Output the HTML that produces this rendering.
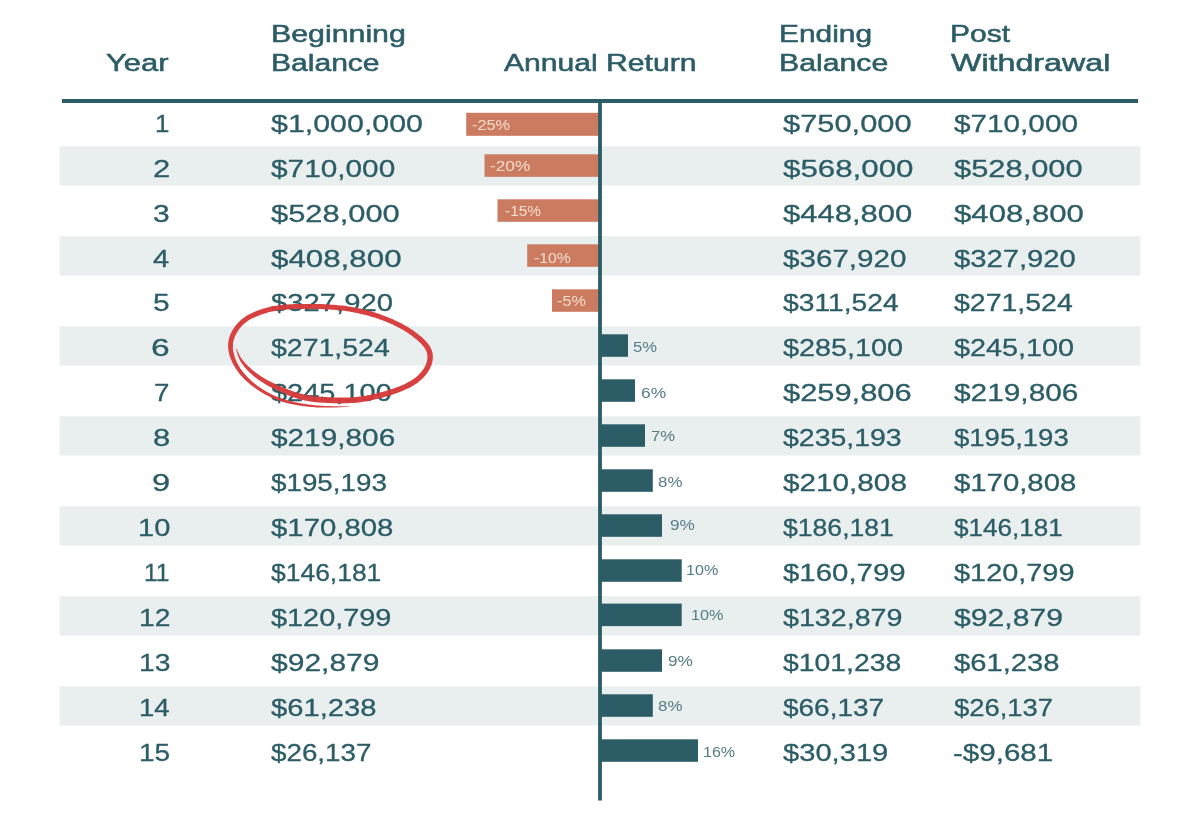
<!DOCTYPE html>
<html lang="en">
<head>
<meta charset="utf-8">
<title>Sequence of Returns &ndash; Withdrawal Table</title>
<style>
html,body{margin:0;padding:0;background:#fff;}
body{width:1200px;height:834px;position:relative;overflow:hidden;font-family:"Liberation Sans", sans-serif;color:#2c5d66;}
#bg,#mark{position:absolute;left:0;top:0;width:1200px;height:834px;display:block;}
#mark{opacity:0.96;}
.tbl{position:absolute;left:0;top:0;width:1200px;height:834px;}
.t{position:absolute;white-space:nowrap;transform-origin:0 0;display:block;will-change:transform;}
.h{font-size:24.5px;line-height:27px;-webkit-text-stroke:0.55px #2c5d66;}
.y,.n{font-size:24.5px;line-height:27px;-webkit-text-stroke:0.3px #2c5d66;}
.ln,.lp{font-size:15.4px;line-height:17px;}
.ln{color:#f8dccd;}
.lp{color:#567c85;}
</style>
</head>
<body>
<svg id="bg" width="1200" height="834" viewBox="0 0 1200 834">
<rect x="59.5" y="146.25" width="1081" height="39.25" fill="#e9eeef"/>
<rect x="59.5" y="236.25" width="1081" height="39.25" fill="#e9eeef"/>
<rect x="59.5" y="326.25" width="1081" height="39.25" fill="#e9eeef"/>
<rect x="59.5" y="416.25" width="1081" height="39.25" fill="#e9eeef"/>
<rect x="59.5" y="506.25" width="1081" height="39.25" fill="#e9eeef"/>
<rect x="59.5" y="596.25" width="1081" height="39.25" fill="#e9eeef"/>
<rect x="59.5" y="686.25" width="1081" height="39.25" fill="#e9eeef"/>
<rect x="466.2" y="112.8" width="133.0" height="23.0" fill="#ca7b60"/>
<rect x="484.5" y="154.3" width="114.7" height="22.5" fill="#ca7b60"/>
<rect x="497.5" y="199.3" width="101.7" height="22.5" fill="#ca7b60"/>
<rect x="527.2" y="244.3" width="72.0" height="22.5" fill="#ca7b60"/>
<rect x="552.0" y="289.3" width="47.2" height="22.5" fill="#ca7b60"/>
<rect x="601.0" y="334.3" width="27.0" height="22.5" fill="#2c5d66"/>
<rect x="601.0" y="379.3" width="34.0" height="22.5" fill="#2c5d66"/>
<rect x="601.0" y="424.3" width="44.0" height="22.5" fill="#2c5d66"/>
<rect x="601.0" y="469.3" width="51.8" height="22.5" fill="#2c5d66"/>
<rect x="601.0" y="514.3" width="61.0" height="22.5" fill="#2c5d66"/>
<rect x="601.0" y="559.3" width="80.7" height="22.5" fill="#2c5d66"/>
<rect x="601.0" y="603.6" width="80.7" height="22.5" fill="#2c5d66"/>
<rect x="601.0" y="649.3" width="61.0" height="22.5" fill="#2c5d66"/>
<rect x="601.0" y="694.3" width="51.8" height="22.5" fill="#2c5d66"/>
<rect x="601.0" y="739.3" width="97.0" height="22.5" fill="#2c5d66"/>
<rect x="62" y="99" width="1076" height="4" fill="#2c5d66"/>
<rect x="598.1" y="99" width="3.8" height="701.5" fill="#2c5d66"/>
</svg>
<div class="tbl" role="table">
<div class="thead" role="row"><span class="t h" style="left:106.42px;top:49.30px;transform:scaleX(1.2622)">Year</span><span class="t h" style="left:270.63px;top:20.20px;transform:scaleX(1.2371)">Beginning</span><span class="t h" style="left:270.65px;top:49.30px;transform:scaleX(1.2262)">Balance</span><span class="t h" style="left:504.30px;top:49.30px;transform:scaleX(1.2283)">Annual Return</span><span class="t h" style="left:778.92px;top:20.20px;transform:scaleX(1.2192)">Ending</span><span class="t h" style="left:778.89px;top:49.30px;transform:scaleX(1.2338)">Balance</span><span class="t h" style="left:949.66px;top:20.20px;transform:scaleX(1.2237)">Post</span><span class="t h" style="left:951.00px;top:49.30px;transform:scaleX(1.3149)">Withdrawal</span></div>
<div class="tr" role="row"><span class="t y" style="left:155.38px;top:110.00px;transform:scaleX(1.0584)">1</span><span class="t n" style="left:270.75px;top:110.00px;transform:scaleX(1.2397)">$1,000,000</span><span class="t n" style="left:782.60px;top:110.00px;transform:scaleX(1.2591)">$750,000</span><span class="t n" style="left:953.90px;top:110.00px;transform:scaleX(1.2129)">$710,000</span><span class="t ln" style="left:471.69px;top:115.70px;transform:scaleX(1.0568)">-25%</span></div>
<div class="tr" role="row"><span class="t y" style="left:152.80px;top:155.00px;transform:scaleX(1.2626)">2</span><span class="t n" style="left:270.75px;top:155.00px;transform:scaleX(1.2158)">$710,000</span><span class="t n" style="left:782.60px;top:155.00px;transform:scaleX(1.2769)">$568,000</span><span class="t n" style="left:953.90px;top:155.00px;transform:scaleX(1.2582)">$528,000</span><span class="t ln" style="left:490.26px;top:156.80px;transform:scaleX(1.1197)">-20%</span></div>
<div class="tr" role="row"><span class="t y" style="left:153.31px;top:200.00px;transform:scaleX(1.2219)">3</span><span class="t n" style="left:270.75px;top:200.00px;transform:scaleX(1.2601)">$528,000</span><span class="t n" style="left:782.60px;top:200.00px;transform:scaleX(1.2660)">$448,800</span><span class="t n" style="left:953.90px;top:200.00px;transform:scaleX(1.2710)">$408,800</span><span class="t ln" style="left:504.52px;top:202.30px;transform:scaleX(0.9997)">-15%</span></div>
<div class="tr" role="row"><span class="t y" style="left:153.30px;top:245.00px;transform:scaleX(1.1874)">4</span><span class="t n" style="left:270.75px;top:245.00px;transform:scaleX(1.2774)">$408,800</span><span class="t n" style="left:782.60px;top:245.00px;transform:scaleX(1.2080)">$367,920</span><span class="t n" style="left:953.90px;top:245.00px;transform:scaleX(1.1922)">$327,920</span><span class="t ln" style="left:533.71px;top:248.50px;transform:scaleX(1.0225)">-10%</span></div>
<div class="tr" role="row"><span class="t y" style="left:153.31px;top:289.00px;transform:scaleX(1.2219)">5</span><span class="t n" style="left:270.75px;top:289.00px;transform:scaleX(1.1937)">$327,920</span><span class="t n" style="left:782.60px;top:289.00px;transform:scaleX(1.1518)">$311,524</span><span class="t n" style="left:953.90px;top:289.00px;transform:scaleX(1.1617)">$271,524</span><span class="t ln" style="left:556.99px;top:292.20px;transform:scaleX(1.0512)">-5%</span></div>
<div class="tr" role="row"><span class="t y" style="left:151.43px;top:334.00px;transform:scaleX(1.3714)">6</span><span class="t n" style="left:270.75px;top:334.00px;transform:scaleX(1.1617)">$271,524</span><span class="t n" style="left:782.60px;top:334.00px;transform:scaleX(1.1745)">$285,100</span><span class="t n" style="left:953.90px;top:334.00px;transform:scaleX(1.1745)">$245,100</span><span class="t lp" style="left:632.78px;top:337.70px;transform:scaleX(1.0789)">5%</span></div>
<div class="tr" role="row"><span class="t y" style="left:154.45px;top:379.00px;transform:scaleX(1.1320)">7</span><span class="t n" style="left:270.75px;top:379.00px;transform:scaleX(1.1814)">$245,100</span><span class="t n" style="left:782.60px;top:379.00px;transform:scaleX(1.2590)">$259,806</span><span class="t n" style="left:953.90px;top:379.00px;transform:scaleX(1.2175)">$219,806</span><span class="t lp" style="left:640.88px;top:383.50px;transform:scaleX(1.1292)">6%</span></div>
<div class="tr" role="row"><span class="t y" style="left:152.78px;top:424.00px;transform:scaleX(1.2640)">8</span><span class="t n" style="left:270.75px;top:424.00px;transform:scaleX(1.2155)">$219,806</span><span class="t n" style="left:782.60px;top:424.00px;transform:scaleX(1.1611)">$235,193</span><span class="t n" style="left:953.90px;top:424.00px;transform:scaleX(1.1226)">$195,193</span><span class="t lp" style="left:651.42px;top:426.80px;transform:scaleX(1.0817)">7%</span></div>
<div class="tr" role="row"><span class="t y" style="left:151.97px;top:469.00px;transform:scaleX(1.3279)">9</span><span class="t n" style="left:270.75px;top:469.00px;transform:scaleX(1.1340)">$195,193</span><span class="t n" style="left:782.60px;top:469.00px;transform:scaleX(1.2125)">$210,808</span><span class="t n" style="left:953.90px;top:469.00px;transform:scaleX(1.1967)">$170,808</span><span class="t lp" style="left:657.77px;top:472.70px;transform:scaleX(1.0977)">8%</span></div>
<div class="tr" role="row"><span class="t y" style="left:137.69px;top:514.00px;transform:scaleX(1.1848)">10</span><span class="t n" style="left:270.75px;top:514.00px;transform:scaleX(1.1982)">$170,808</span><span class="t n" style="left:782.60px;top:514.00px;transform:scaleX(1.0850)">$186,181</span><span class="t n" style="left:953.90px;top:514.00px;transform:scaleX(1.0643)">$146,181</span><span class="t lp" style="left:670.40px;top:516.30px;transform:scaleX(1.1149)">9%</span></div>
<div class="tr" role="row"><span class="t y" style="left:143.96px;top:559.00px;transform:scaleX(1.0040)">11</span><span class="t n" style="left:270.75px;top:559.00px;transform:scaleX(1.0796)">$146,181</span><span class="t n" style="left:782.60px;top:559.00px;transform:scaleX(1.1997)">$160,799</span><span class="t n" style="left:953.90px;top:559.00px;transform:scaleX(1.1789)">$120,799</span><span class="t lp" style="left:686.49px;top:560.50px;transform:scaleX(1.0476)">10%</span></div>
<div class="tr" role="row"><span class="t y" style="left:138.74px;top:604.00px;transform:scaleX(1.1526)">12</span><span class="t n" style="left:270.75px;top:604.00px;transform:scaleX(1.1784)">$120,799</span><span class="t n" style="left:782.60px;top:604.00px;transform:scaleX(1.1690)">$132,879</span><span class="t n" style="left:953.90px;top:604.00px;transform:scaleX(1.2299)">$92,879</span><span class="t lp" style="left:690.99px;top:605.70px;transform:scaleX(1.0544)">10%</span></div>
<div class="tr" role="row"><span class="t y" style="left:138.74px;top:649.00px;transform:scaleX(1.1526)">13</span><span class="t n" style="left:270.75px;top:649.00px;transform:scaleX(1.2248)">$92,879</span><span class="t n" style="left:782.60px;top:649.00px;transform:scaleX(1.1562)">$101,238</span><span class="t n" style="left:953.90px;top:649.00px;transform:scaleX(1.1911)">$61,238</span><span class="t lp" style="left:668.39px;top:651.80px;transform:scaleX(1.1197)">9%</span></div>
<div class="tr" role="row"><span class="t y" style="left:138.78px;top:694.00px;transform:scaleX(1.1250)">14</span><span class="t n" style="left:270.75px;top:694.00px;transform:scaleX(1.1905)">$61,238</span><span class="t n" style="left:782.60px;top:694.00px;transform:scaleX(1.1420)">$66,137</span><span class="t n" style="left:953.90px;top:694.00px;transform:scaleX(1.1180)">$26,137</span><span class="t lp" style="left:657.77px;top:697.20px;transform:scaleX(1.0977)">8%</span></div>
<div class="tr" role="row"><span class="t y" style="left:138.75px;top:739.00px;transform:scaleX(1.1425)">15</span><span class="t n" style="left:270.75px;top:739.00px;transform:scaleX(1.1334)">$26,137</span><span class="t n" style="left:782.60px;top:739.00px;transform:scaleX(1.1888)">$30,319</span><span class="t n" style="left:953.48px;top:739.00px;transform:scaleX(1.2061)">-$9,681</span><span class="t lp" style="left:703.10px;top:742.90px;transform:scaleX(1.0408)">16%</span></div>
</div>
<svg id="mark" width="1200" height="834" viewBox="0 0 1200 834"><path d="M236.1 348.5 L236.5 350.4 L237.0 352.3 L237.5 354.3 L238.2 356.2 L238.9 358.1 L239.8 359.9 L240.8 361.7 L241.9 363.4 L243.1 365.1 L244.3 366.7 L245.6 368.2 L247.0 369.8 L248.4 371.2 L249.9 372.7 L251.4 374.0 L252.9 375.4 L254.5 376.7 L256.1 378.0 L257.7 379.2 L259.4 380.4 L261.1 381.5 L262.8 382.6 L264.5 383.7 L266.3 384.8 L268.0 385.8 L269.8 386.7 L271.6 387.7 L273.5 388.6 L275.3 389.4 L277.1 390.3 L278.9 391.2 L280.8 392.0 L282.6 392.8 L284.4 393.6 L286.3 394.5 L288.1 395.3 L290.0 396.0 L291.9 396.8 L293.9 397.5 L295.8 398.1 L297.8 398.7 L299.8 399.3 L301.8 399.8 L303.8 400.3 L305.8 400.7 L307.8 401.1 L309.8 401.4 L311.9 401.7 L313.9 402.0 L315.9 402.2 L317.9 402.4 L320.0 402.5 L322.0 402.7 L324.0 402.8 L326.0 402.9 L328.0 403.0 L330.1 403.1 L332.1 403.2 L334.1 403.3 L336.1 403.3 L338.1 403.4 L340.2 403.4 L342.2 403.4 L344.2 403.3 L346.2 403.3 L348.3 403.2 L350.3 403.1 L352.3 403.0 L354.4 402.9 L356.4 402.7 L358.4 402.5 L360.5 402.2 L362.5 401.9 L364.5 401.6 L366.5 401.2 L368.5 400.9 L370.5 400.5 L372.5 400.0 L374.5 399.6 L376.4 399.1 L378.4 398.7 L380.4 398.2 L382.3 397.7 L384.3 397.1 L386.2 396.6 L388.2 396.0 L390.1 395.4 L392.1 394.7 L394.0 394.1 L395.9 393.4 L397.8 392.7 L399.7 392.0 L401.6 391.2 L403.5 390.5 L405.4 389.6 L407.2 388.8 L409.1 387.9 L410.9 386.9 L412.7 385.9 L414.5 384.8 L416.3 383.7 L418.0 382.4 L419.6 381.1 L421.2 379.8 L422.8 378.3 L424.2 376.8 L425.6 375.2 L426.9 373.6 L428.1 371.8 L429.2 370.0 L430.2 368.1 L431.1 366.1 L431.8 364.1 L432.3 362.0 L432.7 359.8 L432.9 357.7 L432.8 355.5 L432.6 353.3 L432.0 351.2 L431.3 349.2 L430.3 347.2 L429.2 345.4 L427.9 343.6 L426.6 342.0 L425.2 340.5 L423.7 339.0 L422.2 337.6 L420.6 336.3 L419.0 335.0 L417.4 333.7 L415.8 332.4 L414.1 331.2 L412.5 330.1 L410.8 328.9 L409.0 327.8 L407.3 326.8 L405.5 325.7 L403.7 324.7 L402.0 323.8 L400.1 322.8 L398.3 321.9 L396.5 321.0 L394.6 320.2 L392.8 319.3 L390.9 318.5 L389.1 317.7 L387.2 317.0 L385.3 316.2 L383.4 315.5 L381.5 314.8 L379.6 314.1 L377.7 313.5 L375.8 312.8 L373.8 312.2 L371.9 311.6 L369.9 311.1 L368.0 310.5 L366.0 310.0 L364.0 309.5 L362.1 309.1 L360.1 308.6 L358.1 308.2 L356.1 307.8 L354.1 307.4 L352.2 307.1 L350.2 306.7 L348.2 306.4 L346.1 306.1 L344.1 305.8 L342.1 305.6 L340.1 305.4 L338.1 305.2 L336.1 305.0 L334.1 304.8 L332.0 304.7 L330.0 304.5 L328.0 304.4 L326.0 304.3 L324.0 304.2 L322.0 304.1 L320.0 304.1 L318.0 304.0 L316.0 303.9 L313.9 303.9 L311.9 303.9 L309.9 303.9 L307.9 303.9 L305.9 303.9 L303.9 303.9 L301.9 303.9 L299.9 303.9 L297.8 304.0 L295.8 304.1 L293.8 304.1 L291.8 304.2 L289.8 304.3 L287.8 304.4 L285.7 304.5 L283.7 304.7 L281.7 304.9 L279.6 305.1 L277.6 305.4 L275.6 305.7 L273.6 306.1 L271.6 306.5 L269.6 307.0 L267.6 307.5 L265.6 308.0 L263.6 308.6 L261.7 309.2 L259.7 309.8 L257.8 310.5 L255.9 311.3 L254.0 312.1 L252.1 312.9 L250.3 313.8 L248.4 314.8 L246.6 315.8 L244.8 317.0 L243.1 318.2 L241.5 319.5 L239.9 320.9 L238.4 322.4 L237.0 323.9 L235.7 325.6 L234.4 327.3 L233.3 329.0 L232.2 330.8 L231.2 332.7 L230.3 334.6 L229.6 336.6 L229.0 338.6 L228.5 340.7 L228.2 342.8 L228.1 344.9 L228.1 347.0 L228.3 349.1 L228.6 351.2 L229.0 353.3 L229.5 355.3 L230.2 357.3 L230.9 359.2 L231.7 361.1 L232.6 363.0 L233.5 364.8 L234.5 366.6 L235.6 368.4 L236.8 370.1 L238.0 371.8 L239.2 373.4 L240.5 375.0 L241.9 376.5 L243.3 378.0 L244.7 379.5 L246.2 380.9 L247.7 382.3 L249.3 383.6 L250.8 384.9 L252.4 386.1 L254.1 387.3 L255.7 388.5 L257.4 389.7 L259.1 390.8 L260.8 391.9 L262.6 392.9 L264.3 393.9 L266.1 394.9 L267.9 395.8 L269.7 396.7 L271.5 397.6 L273.4 398.4 L275.3 399.2 L277.1 399.9 L279.1 400.6 L281.0 401.3 L282.9 401.9 L284.9 402.4 L286.8 403.0 L288.8 403.5 L290.7 403.9 L292.7 404.3 L294.7 404.7 L296.7 405.1 L298.7 405.4 L300.6 405.8 L302.6 406.0 L304.6 406.3 L306.6 406.5 L308.6 406.8 L310.6 407.0 L312.6 407.1 L314.6 407.3 L316.6 407.4 L318.7 407.5 L320.7 407.6 L322.7 407.6 L324.7 407.6 L326.7 407.6 L328.7 407.6 L330.7 407.6 L332.7 407.5 L334.7 407.5 L336.7 407.4 L338.7 407.3 L340.7 407.2 L342.7 407.1 L344.7 407.0 L346.7 406.8 L348.7 406.7 L349.7 406.6 L349.7 406.2 L348.7 406.2 L346.7 406.2 L344.7 406.2 L342.7 406.2 L340.7 406.2 L338.7 406.2 L336.7 406.2 L334.7 406.2 L332.7 406.2 L330.7 406.1 L328.7 406.1 L326.7 406.0 L324.7 405.9 L322.7 405.8 L320.8 405.7 L318.8 405.6 L316.8 405.4 L314.8 405.2 L312.8 405.0 L310.9 404.8 L308.9 404.5 L306.9 404.3 L305.0 404.0 L303.0 403.7 L301.0 403.3 L299.1 403.0 L297.1 402.6 L295.2 402.2 L293.3 401.7 L291.3 401.3 L289.4 400.8 L287.5 400.3 L285.6 399.8 L283.7 399.2 L281.9 398.6 L280.0 397.9 L278.2 397.2 L276.4 396.5 L274.6 395.7 L272.8 394.9 L271.0 394.0 L269.3 393.1 L267.6 392.2 L265.8 391.2 L264.2 390.2 L262.5 389.2 L260.8 388.1 L259.2 387.0 L257.6 385.9 L256.1 384.7 L254.5 383.5 L253.0 382.2 L251.5 381.0 L250.1 379.6 L248.7 378.3 L247.3 376.9 L246.0 375.5 L244.7 374.1 L243.4 372.6 L242.2 371.1 L241.1 369.5 L240.0 367.9 L239.0 366.3 L238.1 364.6 L237.2 362.9 L236.4 361.2 L235.6 359.5 L234.9 357.7 L234.4 355.9 L233.9 354.1 L233.4 352.3 L233.1 350.5 L232.9 348.7 L232.9 346.9 L232.9 345.1 L233.0 343.3 L233.3 341.6 L233.7 339.9 L234.3 338.2 L234.9 336.5 L235.7 334.9 L236.6 333.3 L237.5 331.7 L238.6 330.1 L239.6 328.6 L240.8 327.2 L242.0 325.8 L243.3 324.5 L244.7 323.3 L246.1 322.2 L247.6 321.1 L249.2 320.1 L250.8 319.1 L252.5 318.3 L254.2 317.4 L256.0 316.7 L257.8 315.9 L259.6 315.2 L261.4 314.6 L263.2 313.9 L265.1 313.4 L267.0 312.8 L268.8 312.3 L270.7 311.8 L272.6 311.4 L274.5 311.0 L276.4 310.7 L278.3 310.4 L280.3 310.1 L282.2 309.9 L284.1 309.7 L286.1 309.5 L288.1 309.4 L290.0 309.3 L292.0 309.2 L294.0 309.1 L296.0 309.0 L298.0 309.0 L300.0 308.9 L301.9 308.9 L303.9 308.9 L305.9 308.9 L307.9 308.9 L309.9 308.9 L311.9 308.9 L313.9 308.9 L315.8 308.9 L317.8 309.0 L319.8 309.1 L321.8 309.1 L323.8 309.2 L325.8 309.3 L327.7 309.4 L329.7 309.5 L331.7 309.7 L333.7 309.8 L335.7 310.0 L337.6 310.1 L339.6 310.3 L341.5 310.5 L343.5 310.8 L345.4 311.0 L347.4 311.3 L349.3 311.6 L351.3 312.0 L353.2 312.3 L355.2 312.7 L357.1 313.1 L359.0 313.5 L361.0 313.9 L362.9 314.4 L364.8 314.8 L366.7 315.3 L368.6 315.8 L370.5 316.4 L372.4 316.9 L374.3 317.5 L376.1 318.1 L378.0 318.8 L379.8 319.4 L381.7 320.1 L383.5 320.8 L385.4 321.5 L387.2 322.3 L389.0 323.0 L390.8 323.8 L392.6 324.6 L394.4 325.5 L396.2 326.3 L397.9 327.2 L399.6 328.1 L401.4 329.1 L403.1 330.0 L404.7 331.0 L406.4 332.0 L408.0 333.1 L409.6 334.2 L411.2 335.3 L412.8 336.5 L414.3 337.7 L415.8 338.9 L417.3 340.1 L418.7 341.4 L420.1 342.8 L421.4 344.1 L422.7 345.5 L423.8 346.9 L424.8 348.3 L425.7 349.7 L426.4 351.2 L426.9 352.7 L427.2 354.3 L427.4 355.9 L427.4 357.5 L427.3 359.2 L427.0 360.8 L426.6 362.5 L426.0 364.1 L425.3 365.7 L424.5 367.3 L423.6 368.8 L422.5 370.3 L421.4 371.8 L420.2 373.1 L418.9 374.5 L417.6 375.7 L416.2 377.0 L414.7 378.1 L413.2 379.2 L411.6 380.2 L410.0 381.2 L408.3 382.1 L406.6 383.0 L404.9 383.9 L403.2 384.7 L401.4 385.5 L399.6 386.2 L397.8 386.9 L395.9 387.6 L394.1 388.3 L392.2 388.9 L390.3 389.5 L388.5 390.1 L386.6 390.7 L384.7 391.3 L382.8 391.8 L380.9 392.3 L379.0 392.8 L377.1 393.3 L375.2 393.7 L373.2 394.1 L371.3 394.6 L369.4 394.9 L367.4 395.3 L365.5 395.7 L363.6 396.0 L361.7 396.3 L359.7 396.6 L357.8 396.8 L355.9 397.0 L353.9 397.2 L352.0 397.3 L350.0 397.4 L348.1 397.5 L346.1 397.5 L344.1 397.6 L342.1 397.6 L340.2 397.6 L338.2 397.6 L336.2 397.5 L334.2 397.5 L332.3 397.4 L330.3 397.3 L328.3 397.3 L326.3 397.1 L324.4 397.0 L322.4 396.9 L320.4 396.8 L318.5 396.6 L316.5 396.4 L314.5 396.2 L312.6 396.0 L310.7 395.7 L308.8 395.4 L306.9 395.1 L305.0 394.7 L303.1 394.3 L301.2 393.8 L299.4 393.3 L297.5 392.8 L295.7 392.2 L293.8 391.6 L292.0 390.9 L290.2 390.2 L288.3 389.5 L286.5 388.8 L284.7 388.0 L282.8 387.2 L281.0 386.5 L279.2 385.7 L277.4 384.9 L275.5 384.1 L273.8 383.3 L272.0 382.5 L270.2 381.6 L268.5 380.7 L266.8 379.8 L265.1 378.8 L263.4 377.8 L261.8 376.8 L260.1 375.7 L258.5 374.6 L256.9 373.5 L255.4 372.3 L253.8 371.1 L252.3 369.9 L250.8 368.6 L249.4 367.3 L248.0 366.0 L246.6 364.6 L245.3 363.2 L244.0 361.8 L242.8 360.3 L241.6 358.8 L240.6 357.2 L239.6 355.5 L238.8 353.8 L238.0 352.0 L237.2 350.2 L236.5 348.3Z" fill="#d63a3a" fill-rule="nonzero"/></svg>
</body>
</html>
